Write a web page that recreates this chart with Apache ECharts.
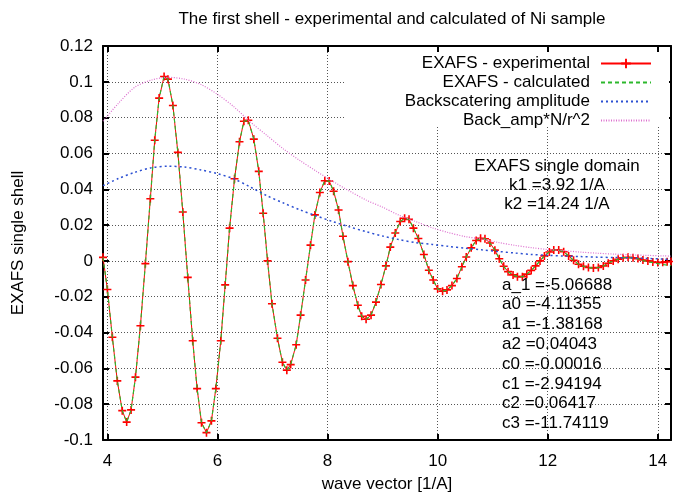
<!DOCTYPE html>
<html><head><meta charset="utf-8">
<script src="https://cdn.jsdelivr.net/npm/echarts@6/dist/echarts.min.js"></script>
<style>html,body{margin:0;padding:0;background:#fff}#c{width:673px;height:498px}</style>
</head><body><div id="c"></div>
<script>
const kExp = [3.92,4.00,4.09,4.18,4.27,4.35,4.43,4.51,4.60,4.69,4.78,4.86,4.94,5.03,5.10,5.19,5.28,5.37,5.46,5.55,5.63,5.71,5.80,5.89,5.97,6.06,6.14,6.22,6.31,6.40,6.48,6.56,6.66,6.75,6.83,6.91,6.99,7.09,7.18,7.26,7.33,7.43,7.51,7.60,7.69,7.77,7.86,7.95,8.03,8.11,8.20,8.28,8.37,8.46,8.55,8.62,8.70,8.79,8.88,8.97,9.06,9.14,9.23,9.32,9.40,9.48,9.56,9.65,9.75,9.84,9.92,10.00,10.09,10.17,10.26,10.35,10.44,10.52,10.61,10.70,10.78,10.86,10.95,11.04,11.12,11.20,11.28,11.37,11.45,11.54,11.62,11.70,11.78,11.86,11.94,12.03,12.11,12.20,12.29,12.38,12.47,12.56,12.65,12.74,12.83,12.92,13.01,13.10,13.19,13.28,13.37,13.46,13.55,13.64,13.73,13.82,13.91,14.00,14.09,14.17,14.24];
const expVals = [0.002,-0.016,-0.0426,-0.067,-0.0836,-0.0900,-0.0832,-0.0649,-0.0362,-0.0015,0.0347,0.0674,0.0909,0.1030,0.1015,0.0868,0.0606,0.0273,-0.0092,-0.0446,-0.0713,-0.0904,-0.0959,-0.0893,-0.0713,-0.0446,-0.0134,0.0183,0.0459,0.0665,0.0780,0.0785,0.0680,0.0500,0.0266,0.0000,-0.0239,-0.0432,-0.0566,-0.0610,-0.0579,-0.0468,-0.0303,-0.0107,0.0088,0.0257,0.0382,0.0448,0.0446,0.0389,0.0284,0.0138,-0.0004,-0.0138,-0.0248,-0.0309,-0.0326,-0.0303,-0.0230,-0.0132,-0.0028,0.0077,0.0156,0.0220,0.0238,0.0232,0.0183,0.0125,0.0036,-0.0052,-0.0107,-0.0156,-0.0169,-0.0162,-0.0138,-0.0098,-0.0033,0.0022,0.0073,0.0114,0.0126,0.0124,0.0100,0.0060,0.0012,-0.0030,-0.0060,-0.0078,-0.0088,-0.0088,-0.0074,-0.0053,-0.0028,0.0000,0.0028,0.0050,0.0061,0.0061,0.0051,0.0028,0.0003,-0.0019,-0.0030,-0.0037,-0.0039,-0.0037,-0.0028,-0.0013,0.0000,0.0009,0.0018,0.0020,0.0018,0.0013,0.0005,0.0000,-0.0006,-0.0009,-0.0008,-0.0005,-0.0003];
const calcVals = [0.002,-0.016,-0.0426,-0.067,-0.0836,-0.0900,-0.0832,-0.0649,-0.0362,-0.0015,0.0347,0.0674,0.0909,0.1030,0.1015,0.0868,0.0606,0.0273,-0.0092,-0.0446,-0.0713,-0.0904,-0.0959,-0.0893,-0.0713,-0.0446,-0.0134,0.0183,0.0459,0.0665,0.0780,0.0785,0.0680,0.0500,0.0266,0.0000,-0.0239,-0.0432,-0.0566,-0.0610,-0.0579,-0.0468,-0.0303,-0.0107,0.0088,0.0257,0.0382,0.0448,0.0446,0.0389,0.0284,0.0138,-0.0004,-0.0138,-0.0248,-0.0309,-0.0326,-0.0303,-0.0230,-0.0132,-0.0028,0.0077,0.0156,0.0220,0.0238,0.0232,0.0183,0.0125,0.0036,-0.0052,-0.0107,-0.0156,-0.0169,-0.0162,-0.0138,-0.0098,-0.0033,0.0022,0.0073,0.0114,0.0126,0.0124,0.0100,0.0060,0.0012,-0.0030,-0.0060,-0.0078,-0.0088,-0.0088,-0.0074,-0.0053,-0.0028,0.0000,0.0028,0.0050,0.0061,0.0061,0.0051,0.0028,0.0003,-0.0019,-0.0030,-0.0037,-0.0039,-0.0037,-0.0028,-0.0013,0.0000,0.0009,0.0018,0.0020,0.0017,0.0011,0.0002,-0.0004,-0.0010,-0.0015,-0.0020,-0.0024,-0.0027];
const kAmp = [3.92,4.2,4.5,4.8,5.1,5.4,5.7,6.0,6.3,6.6,6.9,7.2,7.5,7.8,8.1,8.4,8.7,9.0,9.3,9.6,9.9,10.2,10.5,10.8,11.1,11.4,11.7,12.0,12.3,12.6,12.9,13.2,13.5,13.8,14.1,14.24];
const ampVals = [0.042,0.046,0.0495,0.052,0.0529,0.0524,0.0508,0.0487,0.0458,0.0412,0.0364,0.0323,0.0285,0.0251,0.0219,0.0190,0.0163,0.0139,0.0119,0.0102,0.0092,0.0081,0.0071,0.0062,0.0053,0.0044,0.0036,0.0031,0.0027,0.0024,0.0021,0.0019,0.0017,0.0014,0.0010,0.0008];
const ampNrVals = [0.078,0.088,0.097,0.101,0.1025,0.1015,0.0985,0.093,0.086,0.0775,0.070,0.0625,0.056,0.050,0.0443,0.039,0.034,0.030,0.0255,0.022,0.0185,0.0158,0.0136,0.0122,0.0103,0.0087,0.0074,0.0064,0.0057,0.0049,0.0043,0.0038,0.0034,0.0031,0.0028,0.0027];
const seriesNames = ['EXAFS - experimental','EXAFS - calculated','Backscatering amplitude','Back_amp*N/r^2'];
const domainLines = ['EXAFS single domain','k1 =3.92 1/A','k2 =14.24 1/A'];
const paramLines = ['a_1 =-5.06688','a0 =-4.11355','a1 =-1.38168','a2 =0.04043','c0 =-0.00016','c1 =-2.94194','c2 =0.06417','c3 =-11.74119'];
const xMin = 3.92, xMax = 14.24, yMin = -0.1, yMax = 0.12, yStep = 0.02;

const FF = 'Liberation Sans, Arial, Helvetica, sans-serif';
const FS = 17;
const plus = 'path://M4,0H6V4H10V6H6V10H4V6H0V4H4Z';
const chart = echarts.init(document.getElementById('c'), null, {renderer:'canvas'});
const pair = (ks, vs) => ks.map((k, i) => [k, vs[i]]);
const xFmt = v => (Math.abs(v - Math.round(v)) < 1e-6 && Math.round(v) % 2 === 0) ? String(Math.round(v)) : '';
const gridDot = {show:true, lineStyle:{color:'#555', width:1, type:[1,2]}};
const axisLineS = {show:true, onZero:false, lineStyle:{color:'#000', width:2}};
const tickS = {show:true, inside:true, length:6, lineStyle:{color:'#000', width:2}};

const graphics = [
  {type:'rect', z:1, silent:true, shape:{x:345, y:52, width:324, height:74}, style:{fill:'#fff'}}
];
domainLines.forEach((t, i) => graphics.push({type:'text', z:10, x:557, y:166 + i*19,
  style:{text:t, fontSize:FS, fontFamily:FF, fill:'#000', align:'center', verticalAlign:'middle'}}));
paramLines.forEach((t, i) => graphics.push({type:'text', z:10, x:502, y:285 + i*19.8,
  style:{text:t, fontSize:FS, fontFamily:FF, fill:'#000', align:'left', verticalAlign:'middle'}}));

const legendData = seriesNames.map((n, i) => i === 0 ? {name:n} : {name:n, itemStyle:{opacity:0}});

chart.setOption({
  animation:false,
  backgroundColor:'#fff',
  title:{text:'The first shell - experimental and calculated of Ni sample', left:387, top:6, textAlign:'center',
    textStyle:{fontSize:FS, fontWeight:'normal', fontFamily:FF, color:'#000'}},
  grid:{left:103, right:2, top:46, bottom:53, containLabel:false},
  legend:{orient:'vertical', align:'right', right:21, top:55, itemWidth:50, itemHeight:12, itemGap:2, padding:0,
    selectedMode:false, data:legendData,
    textStyle:{fontSize:FS, fontFamily:FF, color:'#000', padding:[0,6,0,0]}},
  xAxis:[
    {type:'value', min:xMin, max:xMax, position:'bottom', name:'wave vector [1/A]', nameLocation:'middle', nameGap:36,
      nameTextStyle:{fontSize:FS, fontFamily:FF, color:'#000'},
      axisLine:axisLineS, axisTick:tickS, splitLine:gridDot,
      axisLabel:{fontSize:FS, fontFamily:FF, color:'#000', margin:13, formatter:xFmt, showMinLabel:false, showMaxLabel:false}},
    {type:'value', min:xMin, max:xMax, position:'top', axisLine:axisLineS, axisTick:tickS, splitLine:{show:false}, axisLabel:{show:false}}
  ],
  yAxis:[
    {type:'value', min:yMin, max:yMax, interval:yStep, position:'left', name:'EXAFS single shell', nameLocation:'middle', nameGap:76,
      nameTextStyle:{fontSize:FS, fontFamily:FF, color:'#000'},
      axisLine:axisLineS, axisTick:tickS, splitLine:gridDot,
      axisLabel:{fontSize:FS, fontFamily:FF, color:'#000', margin:10}},
    {type:'value', min:yMin, max:yMax, interval:yStep, position:'right', axisLine:axisLineS, axisTick:tickS, splitLine:{show:false}, axisLabel:{show:false}}
  ],
  graphic:graphics,
  series:[
    {name:seriesNames[0], type:'line', data:pair(kExp, expVals), symbol:plus, symbolSize:8, showSymbol:true, showAllSymbol:true,
      lineStyle:{color:'#ff0000', width:1}, itemStyle:{color:'#ff0000'}, z:3},
    {name:seriesNames[1], type:'line', data:pair(kExp, calcVals), symbol:'none',
      lineStyle:{color:'#2cb82c', width:1.2, type:[4,3]}, itemStyle:{color:'#2cb82c'}, z:4},
    {name:seriesNames[2], type:'line', data:pair(kAmp, ampVals), symbol:'none', smooth:0.3,
      lineStyle:{color:'#2b4fd2', width:1.5, type:[2,3]}, itemStyle:{color:'#2b4fd2'}, z:4},
    {name:seriesNames[3], type:'line', data:pair(kAmp, ampNrVals), symbol:'none', smooth:0.3,
      lineStyle:{color:'#dd6fcf', width:1.2, type:[1,1.5]}, itemStyle:{color:'#dd6fcf'}, z:4}
  ]
});
</script></body></html>
